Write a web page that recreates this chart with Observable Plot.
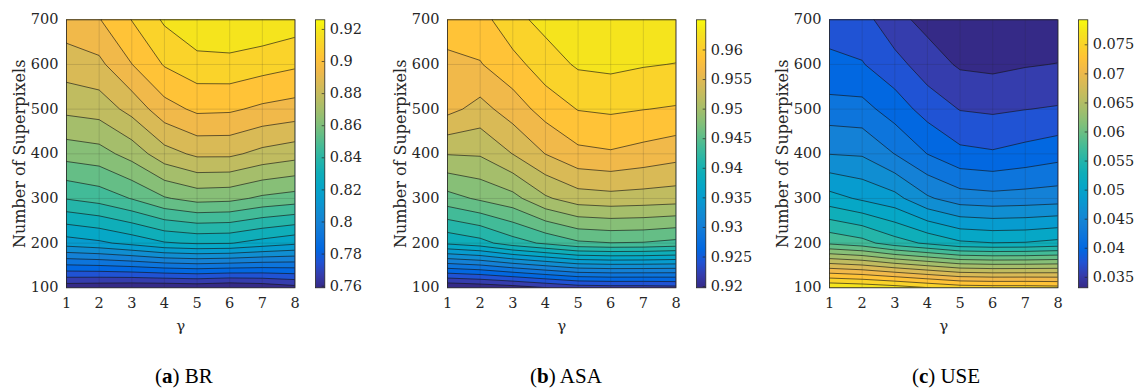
<!DOCTYPE html>
<html>
<head>
<meta charset="utf-8">
<script src="https://cdn.jsdelivr.net/npm/d3@7"></script>
<script src="https://cdn.jsdelivr.net/npm/@observablehq/plot@0.6"></script>
<style>
  body { margin: 0; background: #fff; }
  #fig { position: relative; width: 1134px; height: 390px; overflow: hidden; background: #fff; }
  #fig svg { position: absolute; top: 0; }
  .cap { position: absolute; top: 366px; font-family: "Liberation Serif", serif; font-size: 21px; line-height: 1; color: #000; white-space: nowrap; transform: translateX(-50%); }
</style>
</head>
<body>
<div id="fig"></div>
<script>
// ---- data (grid: rows = superpixels 100..700 bottom->top, columns = gamma 1..8) ----
const gammas = [1, 2, 3, 4, 5, 6, 7, 8];
const superpixels = [100, 200, 300, 400, 500, 600, 700];

const brValues = [
  [0.7614, 0.7606, 0.7598, 0.7598, 0.7606, 0.7590, 0.7606, 0.7638],
  [0.8186, 0.8210, 0.8250, 0.8298, 0.8314, 0.8310, 0.8274, 0.8242],
  [0.8469, 0.8497, 0.8548, 0.8616, 0.8652, 0.8645, 0.8608, 0.8588],
  [0.8656, 0.8672, 0.8735, 0.8831, 0.8878, 0.8878, 0.8839, 0.8815],
  [0.8803, 0.8817, 0.8889, 0.8990, 0.9037, 0.9033, 0.9006, 0.8990],
  [0.8902, 0.8923, 0.9020, 0.9107, 0.9149, 0.9153, 0.9133, 0.9113],
  [0.8986, 0.9017, 0.9103, 0.9192, 0.9252, 0.9260, 0.9248, 0.9224]
];
const asaValues = [
  [0.91980, 0.92023, 0.92088, 0.92185, 0.92282, 0.92304, 0.92304, 0.92325],
  [0.93960, 0.94053, 0.94254, 0.94390, 0.94530, 0.94562, 0.94553, 0.94504],
  [0.94700, 0.94819, 0.94924, 0.95183, 0.95326, 0.95354, 0.95336, 0.95315],
  [0.95226, 0.95239, 0.95436, 0.95651, 0.95807, 0.95838, 0.95785, 0.95725],
  [0.95712, 0.95572, 0.95751, 0.95949, 0.96087, 0.96111, 0.96083, 0.96060],
  [0.95809, 0.95850, 0.96001, 0.96193, 0.96322, 0.96344, 0.96309, 0.96288],
  [0.95971, 0.95992, 0.96230, 0.96359, 0.96445, 0.96510, 0.96488, 0.96467]
];
const useValues = [
  [0.07930, 0.07886, 0.07820, 0.07721, 0.07623, 0.07601, 0.07601, 0.07579],
  [0.05915, 0.05820, 0.05616, 0.05478, 0.05335, 0.05302, 0.05311, 0.05362],
  [0.05162, 0.05041, 0.04934, 0.04670, 0.04525, 0.04497, 0.04514, 0.04536],
  [0.04631, 0.04613, 0.04413, 0.04194, 0.04036, 0.04004, 0.04058, 0.04119],
  [0.04295, 0.04275, 0.04093, 0.03891, 0.03750, 0.03726, 0.03755, 0.03778],
  [0.04001, 0.03992, 0.03838, 0.03643, 0.03511, 0.03489, 0.03524, 0.03546],
  [0.03937, 0.03847, 0.03605, 0.03474, 0.03386, 0.03320, 0.03342, 0.03364]
];

const brTicks  = [0.76, 0.78, 0.80, 0.82, 0.84, 0.86, 0.88, 0.90, 0.92];
const asaTicks = [0.92, 0.925, 0.93, 0.935, 0.94, 0.945, 0.95, 0.955, 0.96];
const useTicks = [0.035, 0.04, 0.045, 0.05, 0.055, 0.06, 0.065, 0.07, 0.075];

const panelLetters = ["a", "b", "c"];
const panelNames = ["BR", "ASA", "USE"];
const xLabel = "γ";
const yLabel = "Number of Superpixels";

// ---- parula colormap ----
const parulaStops = [
  [0.2081, 0.1663, 0.5292], [0.2081, 0.2386, 0.6771], [0.1253, 0.3242, 0.8303],
  [0.0060, 0.4086, 0.8828], [0.0498, 0.4586, 0.8641], [0.0779, 0.5040, 0.8384],
  [0.0641, 0.5570, 0.8240], [0.0265, 0.6137, 0.8135], [0.0228, 0.6535, 0.7768],
  [0.0590, 0.6838, 0.7254], [0.1453, 0.7098, 0.6646], [0.2586, 0.7317, 0.5954],
  [0.3953, 0.7459, 0.5244], [0.5300, 0.7491, 0.4661], [0.6473, 0.7456, 0.4188],
  [0.7525, 0.7384, 0.3768], [0.8507, 0.7299, 0.3360], [0.9450, 0.7261, 0.2886],
  [0.9990, 0.7653, 0.2164], [0.9789, 0.8271, 0.1633], [0.9589, 0.8949, 0.1132],
  [0.9763, 0.9831, 0.0538]
];
const parula = d3.piecewise(d3.interpolateRgb,
  parulaStops.map(([r, g, b]) => d3.rgb(r * 255, g * 255, b * 255).formatHex()));

// ---- layout ----
const panels = [
  {values: brValues,  ticks: brTicks,  plotLeft: 65.7,  cbLeft: 315,  capX: 184},
  {values: asaValues, ticks: asaTicks, plotLeft: 447.3, cbLeft: 695.7, capX: 566},
  {values: useValues, ticks: useTicks, plotLeft: 829,   cbLeft: 1077.7, capX: 946}
];
const TOP = 19.3, H = 268, W = 228.5, SVGH = 345;
const fig = document.getElementById("fig");
const baseStyle = {fontFamily: "'DejaVu Serif', serif", fontSize: "14px", color: "#262626", background: "transparent", overflow: "visible"};
const fmt = d => String(+d.toFixed(3));

panels.forEach((p, i) => {
  const flat = p.values.flat();
  const [zmin, zmax] = d3.extent(flat);
  const nLevels = 20;
  const levels = d3.range(1, nLevels + 1).map(k => zmin + k * (zmax - zmin) / (nLevels + 1));
  const color = {type: "linear", domain: [zmin, zmax], interpolate: parula};
  const mL = 64, mR = 8;

  const main = Plot.plot({
    width: mL + W + mR, height: SVGH,
    marginLeft: mL, marginRight: mR, marginTop: TOP, marginBottom: SVGH - TOP - H,
    x: {domain: [1, 8]},
    y: {domain: [100, 700]},
    color,
    style: baseStyle,
    marks: [
      Plot.frame({fill: parula(0)}),
      Plot.contour(flat, {
        width: gammas.length, height: superpixels.length,
        x1: 0.5, x2: 8.5, y1: 50, y2: 750,
        thresholds: [zmin, ...levels],
        fill: Plot.identity,
        stroke: "#141414", strokeWidth: 0.7, strokeOpacity: 0.9,
        clip: true
      }),
      Plot.gridX(gammas, {stroke: "#262626", strokeOpacity: 0.15}),
      Plot.gridY(superpixels, {stroke: "#262626", strokeOpacity: 0.15}),
      Plot.frame({stroke: "#262626", strokeWidth: 0.8}),
      Plot.axisX({ticks: gammas, tickSize: 0, tickPadding: 10, tickFormat: d => `${d}`, label: null, fontSize: 14.5}),
      Plot.axisY({ticks: superpixels, tickSize: 0, tickPadding: 8, tickFormat: d => `${d}`, label: null, fontSize: 14.5}),
      Plot.text([yLabel], {frameAnchor: "left", textAnchor: "middle", rotate: -90, dx: -46.7, fontSize: 16}),
      Plot.text([xLabel], {frameAnchor: "bottom", textAnchor: "middle", dy: 42.7, fontSize: 15})
    ]
  });
  main.style.left = (p.plotLeft - mL) + "px";
  fig.appendChild(main);

  const cbW = 9.3, cL = 2, cR = 60;
  const cb = Plot.plot({
    width: cL + cbW + cR, height: SVGH,
    marginLeft: cL, marginRight: cR, marginTop: TOP, marginBottom: SVGH - TOP - H,
    x: {domain: [0, 1], axis: null},
    y: {domain: [zmin, zmax]},
    color,
    style: baseStyle,
    marks: [
      Plot.raster({fill: (x, y) => y, x1: 0, x2: 1, y1: zmin, y2: zmax}),
      Plot.ruleY(p.ticks, {x1: 0.72, x2: 1, stroke: "#262626", strokeWidth: 0.7}),
      Plot.frame({stroke: "#262626", strokeWidth: 0.8}),
      Plot.axisY({anchor: "right", ticks: p.ticks, tickSize: 0, tickPadding: 5, tickFormat: fmt, label: null, fontSize: 14.5})
    ]
  });
  cb.style.left = (p.cbLeft - cL) + "px";
  fig.appendChild(cb);

  const cap = document.createElement("div");
  cap.className = "cap";
  cap.style.left = p.capX + "px";
  cap.innerHTML = `(<b>${panelLetters[i]}</b>) ${panelNames[i]}`;
  fig.appendChild(cap);
});
</script>
</body>
</html>
